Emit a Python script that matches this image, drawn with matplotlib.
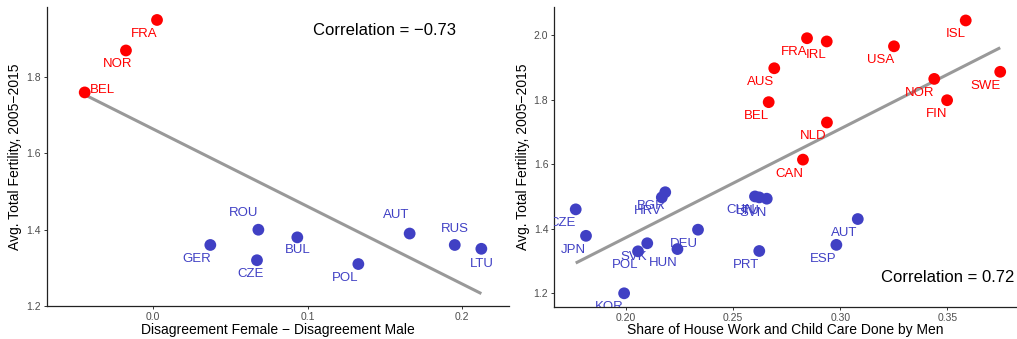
import numpy as np
import matplotlib.pyplot as plt

plt.rcParams['font.family'] = ['Liberation Sans', 'DejaVu Sans']

RED = '#FF0000'
BLUE = '#4040C4'

# left panel: attitude disagreement vs fertility
eu_codes = ['FRA', 'NOR', 'BEL', 'ROU', 'GER', 'CZE', 'BUL', 'POL', 'AUT', 'RUS', 'LTU']
eu_disagree = [0.0026, -0.0175, -0.0442, 0.0682, 0.0371, 0.0673, 0.0934, 0.1329, 0.1661, 0.1953, 0.2125]
eu_fertility = [1.95, 1.87, 1.76, 1.40, 1.36, 1.32, 1.38, 1.31, 1.39, 1.36, 1.35]
eu_high = [True, True, True, False, False, False, False, False, False, False, False]
# label offsets (pixels, label centre relative to point)
eu_offsets = {'FRA': (-13, 14), 'NOR': (-8, 14), 'BEL': (18, -2), 'ROU': (-15, -17),
              'GER': (-14, 14), 'CZE': (-6, 14), 'BUL': (0, 13), 'POL': (-13, 14),
              'AUT': (-13, -19), 'RUS': (0, -16), 'LTU': (0, 15)}

# right panel: share of housework by men vs fertility
oecd_codes = ['ISL', 'FRA', 'IRL', 'USA', 'AUS', 'SWE', 'NOR', 'BEL', 'FIN', 'NLD', 'CAN',
              'CZE', 'JPN', 'KOR', 'BGR', 'HRV', 'SVK', 'POL', 'HUN', 'DEU',
              'CHN', 'LTU', 'SVN', 'PRT', 'ESP', 'AUT']
oecd_share = [0.3586, 0.2845, 0.2937, 0.3251, 0.2692, 0.3747, 0.3439, 0.2666, 0.3499, 0.2938, 0.2826,
              0.1765, 0.1813, 0.1991, 0.2183, 0.2167, 0.2099, 0.2056, 0.2240, 0.2336,
              0.2602, 0.2622, 0.2657, 0.2622, 0.2982, 0.3082]
oecd_fertility = [2.045, 1.99, 1.98, 1.965, 1.897, 1.886, 1.864, 1.792, 1.798, 1.729, 1.614,
                  1.46, 1.378, 1.20, 1.513, 1.497, 1.355, 1.33, 1.337, 1.397,
                  1.50, 1.497, 1.493, 1.331, 1.35, 1.43]
oecd_high = [True] * 11 + [False] * 15

PX = 72 / 100  # pixels -> points

fig = plt.figure(figsize=(10.17, 3.39), dpi=100)
W, H = 1017, 339
ax1 = fig.add_axes([47 / W, (H - 306) / H, (509 - 47) / W, (306 - 7) / H])
ax2 = fig.add_axes([554.3 / W, (H - 306.7) / H, (1016.7 - 554.3) / W, (306.7 - 7) / H])


def style(ax):
    for s in ['top', 'right']:
        ax.spines[s].set_visible(False)
    for s in ['left', 'bottom']:
        ax.spines[s].set_linewidth(0.9)
        ax.spines[s].set_color('#222222')
    ax.tick_params(colors='#333333', labelcolor='#4D4D4D', labelsize=7.5,
                   length=2.5, width=0.7, pad=1.8)


def fit_line(ax, x, y):
    x = np.array(x)
    y = np.array(y)
    b, a = np.polyfit(x, y, 1)
    xs = np.array([x.min(), x.max()])
    ax.plot(xs, a + b * xs, color='#999999', lw=2.2, zorder=2, solid_capstyle='butt')


# left
fit_line(ax1, eu_disagree, eu_fertility)
cols = [RED if h else BLUE for h in eu_high]
ax1.scatter(eu_disagree, eu_fertility, s=72, c=cols, zorder=3, linewidths=0)
for code, x, y, c in zip(eu_codes, eu_disagree, eu_fertility, cols):
    dx, dy = eu_offsets[code]
    ax1.annotate(code, (x, y), xytext=(dx * PX, -dy * PX), textcoords='offset points',
                 ha='center', va='center', color=c, fontsize=9.5, clip_on=True)
ax1.set_xlim(-0.0686, 0.2304)
ax1.set_ylim(1.2, 1.984)
ax1.set_xticks([0.0, 0.1, 0.2])
ax1.set_yticks([1.2, 1.4, 1.6, 1.8])
ax1.set_xlabel('Disagreement Female \u2212 Disagreement Male', fontsize=10, labelpad=0.5)
ax1.set_ylabel('Avg. Total Fertility, 2005\u22122015', fontsize=10, labelpad=3)
ax1.text(0.7316, 0.92, 'Correlation = \u22120.73', transform=ax1.transAxes,
         ha='center', va='center', fontsize=12)
style(ax1)

# right
fit_line(ax2, oecd_share, oecd_fertility)
cols = [RED if h else BLUE for h in oecd_high]
ax2.scatter(oecd_share, oecd_fertility, s=72, c=cols, zorder=3, linewidths=0)
for code, x, y, c in zip(oecd_codes, oecd_share, oecd_fertility, cols):
    t = ax2.annotate(code, (x, y), xytext=(0, -14 * PX), textcoords='offset points',
                     ha='right', va='center', color=c, fontsize=9.5)
    t.set_clip_on(True)
    t.set_clip_box(ax2.bbox)
ax2.set_xlim(0.1665, 0.3824)
ax2.set_ylim(1.1585, 2.0867)
ax2.set_xticks([0.20, 0.25, 0.30, 0.35])
ax2.set_xticklabels(['0.20', '0.25', '0.30', '0.35'])
ax2.set_yticks([1.2, 1.4, 1.6, 1.8, 2.0])
ax2.set_xlabel('Share of House Work and Child Care Done by Men', fontsize=10, labelpad=0.5)
ax2.set_ylabel('Avg. Total Fertility, 2005\u22122015', fontsize=10, labelpad=3)
ax2.text(0.995, 0.098, 'Correlation = 0.72', transform=ax2.transAxes,
         ha='right', va='center', fontsize=12)
style(ax2)

for t in ax1.texts:
    t.set_clip_box(ax1.bbox)

fig.savefig('out.png', dpi=100)
